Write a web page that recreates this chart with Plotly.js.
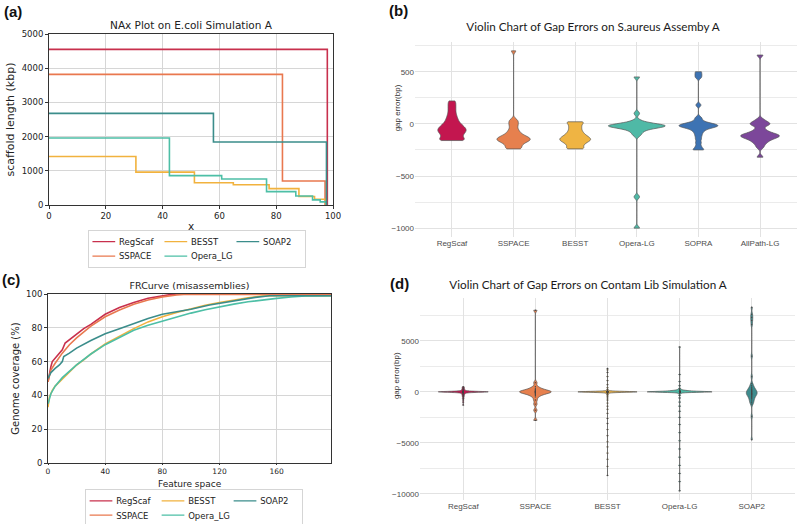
<!DOCTYPE html>
<html><head><meta charset="utf-8">
<script src="https://cdn.plot.ly/plotly-3.0.1.min.js"></script>
<style>
body{margin:0;background:#fff;width:800px;height:524px;position:relative;overflow:hidden}
.p{position:absolute}
</style></head><body>
<div id="pa" class="p" style="left:0;top:0;width:400px;height:270px"></div>
<div id="pc" class="p" style="left:0;top:270px;width:400px;height:254px"></div>
<div id="pb" class="p" style="left:385px;top:0;width:415px;height:270px"></div>
<div id="pd" class="p" style="left:385px;top:270px;width:415px;height:254px"></div>
<script>
// ---------- Panel (a): NAx plot ----------
const assemblers = ['RegScaf', 'SSPACE', 'BESST', 'Opera_LG', 'SOAP2'];
const naxRegScafX = [0, 98.0];
const naxRegScafY = [4550, 0];
const naxSSPACEX = [0, 82.2, 97.2];
const naxSSPACEY = [3820, 700, 0];
const naxBESSTX = [0, 30.6, 51.2, 64.9, 77.5, 88.0, 93.5, 97.4];
const naxBESSTY = [1420, 960, 650, 590, 480, 250, 170, 0];
const naxOperaX = [0, 42.4, 60.8, 76.6, 86.9, 92.8, 95.5, 97.6];
const naxOperaY = [1960, 860, 760, 390, 265, 150, 90, 0];
const naxSOAP2X = [0, 57.9, 97.7];
const naxSOAP2Y = [2680, 1840, 0];

// ---------- Panel (c): FRCurve ----------
const frRegScafX = [0, 1, 2, 3, 5, 7, 10, 12, 15, 20, 25, 30, 40, 50, 60, 70, 80, 85, 90, 198];
const frRegScafY = [48, 54, 57, 60, 62, 64, 67, 71, 73, 76, 79.5, 82, 88, 92, 95, 97.5, 99, 99.6, 100, 100];
const frSSPACEX = [0, 1, 2, 5, 10, 15, 20, 30, 40, 50, 60, 70, 80, 90, 95, 198];
const frSSPACEY = [48, 52, 55, 59, 65, 70, 74, 81, 86.5, 90.5, 94, 96.5, 98.3, 99.4, 99.7, 99.7];
const frBESSTX = [0, 0.5, 1, 2, 3, 5, 8, 10, 15, 20, 25, 30, 40, 50, 60, 70, 80, 90, 100, 110, 120, 130, 140, 150, 160, 198];
const frBESSTY = [33, 36, 39, 41, 43, 45.5, 48, 50, 54, 58, 61, 64.5, 70.5, 75, 79.5, 83.5, 86.5, 89, 91.3, 93.3, 95, 96.6, 97.8, 98.8, 99, 99];
const frOperaX = [0, 1, 2, 5, 10, 20, 30, 40, 50, 60, 70, 80, 90, 100, 110, 120, 130, 140, 150, 160, 170, 180, 198];
const frOperaY = [35, 38, 41, 45.5, 50.5, 58, 64.5, 70, 74.5, 78.5, 81.5, 84, 86.5, 88.7, 90.7, 92.5, 94, 95.4, 96.5, 97.4, 98.2, 98.8, 99];
const frSOAP2X = [0, 1, 2, 5, 8, 10, 11, 15, 20, 30, 40, 50, 60, 70, 80, 90, 100, 113, 120, 135, 145, 155, 198];
const frSOAP2Y = [50, 52, 53.5, 56, 58, 60, 63, 65, 68, 72.5, 76.5, 79.5, 82.5, 85.5, 88, 89.5, 91, 93.5, 94.5, 96.8, 98, 99, 99];

// ---------- Panel (b): violin, S.aureus ----------
const catsB = ['RegScaf', 'SSPACE', 'BESST', 'Opera-LG', 'SOPRA', 'AllPath-LG'];
const gapB_RegScaf = [220, 195, 170, 145, 120, 95, 75, 55, 40, 25, 10, 0, -10, -20, -28, -35, -42, -50, -56, -62, -68, -75, -82, -90, -98, -106, -115, -125, -135, -145, -152, -158, -160, -160];
const gapB_SSPACE = [700, 40, 20, 0, -20, -45, -65, -80, -95, -105, -115, -122, -128, -134, -140, -145, -150, -155, -160, -166, -172, -180, -190, -200, -212, -225, -240, -240];
const gapB_BESST = [20, 18, 5, -10, -25, -40, -55, -70, -82, -94, -104, -113, -121, -128, -135, -141, -147, -153, -159, -165, -172, -180, -190, -200, -212, -225, -238, -240];
const gapB_Opera = [450, 100, 30, 10, 0, -5, -10, -13, -16, -19, -21, -23, -26, -30, -35, -42, -52, -65, -85, -110, -700, -1000];
const gapB_SOPRA = [500, 472, 445, 180, 60, 35, 15, 5, 0, -5, -10, -14, -18, -22, -26, -30, -36, -44, -55, -70, -90, -115, -145, -180, -215, -245, -250];
const gapB_AllPath = [660, 40, 15, 5, -5, -15, -50, -70, -85, -95, -102, -108, -113, -118, -124, -130, -138, -148, -160, -175, -195, -225, -320];

// ---------- Panel (d): violin, Contam Lib ----------
const catsD = ['RegScaf', 'SSPACE', 'BESST', 'Opera-LG', 'SOAP2'];
const gapD_RegScaf = [500, 420, 350, 280, 220, 170, 130, 100, 80, 60, 45, 35, 28, 22, 18, 15, 12, 10, 8, 6, 5, 4, 3, 2, 1, 0, 0, 0, -1, -2, -3, -4, -5, -6, -8, -10, -12, -15, -18, -22, -28, -35, -45, -60, -80, -100, -130, -170, -220, -280, -350, -430, -520, -650, -800, -1000, -1300];
const gapD_SSPACE = [8000, 900, 500, 350, 250, 180, 120, 80, 50, 20, 0, -20, -50, -80, -120, -180, -250, -350, -500, -800, -1200, -1800, -2800];
const gapD_BESST = [2300, 2150, 1900, 1500, 1100, 700, 400, 250, 150, 90, 60, 40, 35, 30, 28, 25, 22, 20, 18, 16, 14, 12, 10, 9, 8, 7, 6, 5, 4, 3, 2, 1, 0, 0, 0, -1, -2, -3, -4, -5, -6, -7, -8, -9, -10, -12, -14, -16, -18, -20, -22, -25, -28, -30, -35, -40, -50, -70, -100, -150, -220, -300, -420, -600, -800, -1100, -1400, -1700, -2100, -2600, -3100, -3700, -4300, -4900, -5400, -6000, -6600, -7300, -8200];
const gapD_Opera = [4400, 1700, 1000, 600, 350, 250, 200, 170, 150, 130, 120, 110, 100, 95, 90, 80, 70, 60, 50, 40, 35, 30, 25, 20, 18, 15, 12, 10, 8, 6, 5, 4, 3, 2, 1, 0, 0, 0, -1, -2, -3, -4, -5, -6, -8, -10, -12, -15, -18, -20, -25, -30, -40, -55, -80, -120, -200, -350, -600, -1000, -1400, -1900, -2500, -3200, -4000, -4800, -5600, -6400, -7200, -8000, -8800, -9700];
const gapD_SOAP2 = [8300, 7600, 7300, 7000, 6600, 3500, 1500, 800, 600, 450, 350, 250, 180, 120, 60, 0, -50, -100, -150, -200, -250, -300, -370, -450, -550, -650, -780, -900, -1050, -1200, -2400, -4700];

// ---------- styles ----------
const lineColors = {RegScaf:'#c8304d', SSPACE:'#e9784f', BESST:'#f1b23e', Opera_LG:'#4dbfa6', SOAP2:'#3b8d8b'};
const legendRank = {RegScaf:1, BESST:2, SOAP2:3, SSPACE:4, Opera_LG:5};
const mplFont = 'DejaVu Sans, sans-serif';
const ggFont = 'Liberation Sans, Arial, sans-serif';
const titleFont = 'Lato, Open Sans, sans-serif';
const legendScale = 0.758;

function stepTrace(name, x, y) {
  return {type:'scatter', mode:'lines', name:name, x:x, y:y,
    line:{color:lineColors[name], width:1.6, shape:'hv'}, legendrank:legendRank[name]};
}
function curveTrace(name, x, y) {
  return {type:'scatter', mode:'lines', name:name, x:x, y:y,
    line:{color:lineColors[name], width:1.6}, legendrank:legendRank[name]};
}
function mplAxis(extra) {
  return Object.assign({showgrid:true, gridcolor:'#d6d6d6', gridwidth:1, showline:true, mirror:true,
    linecolor:'#333', linewidth:1, ticks:'outside', ticklen:3, tickcolor:'#333', zeroline:false,
    tickfont:{family:mplFont, size:8.5, color:'#222'}}, extra);
}
function legendCfg(x, y) {
  return {orientation:'h', x:x, y:y, xanchor:'left', yanchor:'top', entrywidth:50,
    bordercolor:'#c8c8c8', borderwidth:1, bgcolor:'#fff', font:{family:mplFont, size:8.5/legendScale, color:'#222'},
    itemwidth:30, tracegroupgap:0};
}
function shrinkLegend(gd) {
  const lg = gd.querySelector('g.legend');
  if (lg) {
    const t = lg.getAttribute('transform') || '';
    lg.setAttribute('transform', t + ' scale(' + legendScale + ')');
  }
}
function textAnn(text, x, y, size, extra) {
  return Object.assign({text:text, xref:'paper', yref:'paper', x:x, y:y, xanchor:'center', yanchor:'middle',
    showarrow:false, font:{family:mplFont, size:size, color:'#222'}}, extra || {});
}
const cfg = {staticPlot:true, displayModeBar:false};

// ---- (a)
Plotly.newPlot('pa', [
  stepTrace('RegScaf', naxRegScafX, naxRegScafY),
  stepTrace('SSPACE', naxSSPACEX, naxSSPACEY),
  stepTrace('BESST', naxBESSTX, naxBESSTY),
  stepTrace('Opera_LG', naxOperaX, naxOperaY),
  stepTrace('SOAP2', naxSOAP2X, naxSOAP2Y)
], {
  width:400, height:270, margin:{l:49, r:67, t:34, b:65, autoexpand:false},
  paper_bgcolor:'rgba(0,0,0,0)', plot_bgcolor:'#fff', showlegend:true, hovermode:false,
  font:{family:mplFont, size:8.5, color:'#222'},
  title:{text:'NAx Plot on E.coli Simulation A', font:{family:mplFont, size:10.5, color:'#222'},
    xref:'paper', x:0.5, xanchor:'center', yref:'container', y:1-25/270, yanchor:'middle'},
  xaxis: mplAxis({range:[0,100], tick0:0, dtick:20}),
  yaxis: mplAxis({range:[0,5000], tick0:0, dtick:1000, title:{text:'scaffold length (kbp)', font:{family:mplFont, size:11}, standoff:4}}),
  legend: legendCfg(0.137, -0.146),
  annotations:[
    textAnn('x', 0.5, -0.123, 10.5),
    textAnn('<b>(a)</b>', -0.165, 1.13, 15, {xanchor:'left', font:{family:'Liberation Sans, Arial', size:15, color:'#111'}})
  ]
}, cfg).then(shrinkLegend);

// ---- (c)
Plotly.newPlot('pc', [
  curveTrace('RegScaf', frRegScafX, frRegScafY),
  curveTrace('SSPACE', frSSPACEX, frSSPACEY),
  curveTrace('BESST', frBESSTX, frBESSTY),
  curveTrace('Opera_LG', frOperaX, frOperaY),
  curveTrace('SOAP2', frSOAP2X, frSOAP2Y)
], {
  width:400, height:254, margin:{l:48, r:69, t:24, b:61, autoexpand:false},
  paper_bgcolor:'rgba(0,0,0,0)', plot_bgcolor:'#fff', showlegend:true, hovermode:false,
  font:{family:mplFont, size:8.5, color:'#222'},
  title:{text:'FRCurve (misassemblies)', font:{family:mplFont, size:9.5, color:'#222'},
    xref:'paper', x:0.5, xanchor:'center', yref:'container', y:1-16/254, yanchor:'middle'},
  xaxis: mplAxis({range:[0,198], tick0:0, dtick:40, ticklen:1, tickfont:{family:mplFont, size:7.5, color:'#222'}}),
  yaxis: mplAxis({range:[0,100], tick0:0, dtick:20, title:{text:'Genome coverage (%)', font:{family:mplFont, size:10}, standoff:4}}),
  legend: legendCfg(0.131, -0.154),
  annotations:[
    textAnn('Feature space', 0.5, -0.124, 9),
    textAnn('<b>(c)</b>', -0.17, 1.083, 15, {xanchor:'left', font:{family:'Liberation Sans, Arial', size:15, color:'#111'}})
  ]
}, cfg).then(shrinkLegend);

// ---- violins
const violinColors = {'RegScaf':'#c3164f', 'SSPACE':'#e6804e', 'BESST':'#efb443', 'Opera-LG':'#4fb9a6', 'SOPRA':'#3d73b3', 'AllPath-LG':'#7c479a', 'SOAP2':'#3d8b8d'};
function violin(cat, ys, width, bw, pts) {
  return {type:'violin', x0:cat, y:ys, name:cat, width:width, bandwidth:bw, spanmode:'hard',
    fillcolor:violinColors[cat], line:{color:'#555', width:0.7}, opacity:1,
    points: pts ? 'all' : false, jitter:0, pointpos:0, marker:{size:1.3, color:'#444'},
    box:{visible:false}, meanline:{visible:false}, scalemode:'width'};
}
function ggLayout(w, h, margin, title, titleX, titleY, cats, yr, dt, minorDt, label, labelX, labelY, ytX, ytY) {
  return {
    width:w, height:h, margin:Object.assign({autoexpand:false}, margin), paper_bgcolor:'rgba(0,0,0,0)', plot_bgcolor:'#fff',
    showlegend:false, hovermode:false, violinmode:'overlay', font:{family:ggFont, size:8, color:'#4d4d4d'},
    title:{text:title, font:{family:titleFont, size:11.7, color:'#1a1a1a'}, xref:'paper', x:titleX, xanchor:'center',
      yref:'container', y:titleY, yanchor:'middle'},
    xaxis:{type:'category', categoryorder:'array', categoryarray:cats, range:[-0.6, cats.length-0.4],
      showgrid:true, gridcolor:'#e2e2e2', gridwidth:1, ticks:'', zeroline:false, showline:false,
      tickfont:{family:ggFont, size:8, color:'#4d4d4d'}},
    yaxis:{range:yr, tick0:0, dtick:dt, showgrid:true, gridcolor:'#e2e2e2', gridwidth:1, zeroline:false,
      ticks:'', showline:false, tickformat:'d',
      tickfont:{family:ggFont, size:8, color:'#4d4d4d'},
      minor:{tick0:0, dtick:minorDt, showgrid:true, gridcolor:'#ebebeb', gridwidth:1}},
    annotations:[
      {text:label, xref:'paper', yref:'paper', x:labelX, y:labelY, xanchor:'left', yanchor:'middle',
        showarrow:false, font:{family:'Liberation Sans, Arial', size:15, color:'#111'}},
      {text:'gap error(bp)', xref:'paper', yref:'paper', x:ytX, y:ytY, xanchor:'center', yanchor:'middle',
        textangle:-90, showarrow:false, font:{family:ggFont, size:8, color:'#333'}}
    ]
  };
}

Plotly.newPlot('pb', [
  violin('RegScaf', gapB_RegScaf, 0.46, 20),
  violin('SSPACE', gapB_SSPACE, 0.54, 18),
  violin('BESST', gapB_BESST, 0.50, 15),
  violin('Opera-LG', gapB_Opera, 0.92, 18),
  violin('SOPRA', gapB_SOPRA, 0.63, 15),
  violin('AllPath-LG', gapB_AllPath, 0.63, 18)
], ggLayout(415, 270, {l:30, r:3, t:42, b:33}, 'Violin Chart of Gap Errors on S.aureus Assemby A', 0.466, 1-27/270,
  catsB, [-1085, 785], 500, 250, '<b>(b)</b>', -0.072, 1.164, -0.047, 0.66), cfg);

Plotly.newPlot('pd', [
  violin('RegScaf', gapD_RegScaf, 0.69, 40, true),
  violin('SSPACE', gapD_SSPACE, 0.44, 150, true),
  violin('BESST', gapD_BESST, 0.82, 40, true),
  violin('Opera-LG', gapD_Opera, 0.90, 40, true),
  violin('SOAP2', gapD_SOAP2, 0.15, 200, true)
], ggLayout(415, 254, {l:35, r:5, t:28, b:24}, 'Violin Chart of Gap Errors on Contam Lib Simulation A', 0.448, 1-15/254,
  catsD, [-10600, 9200], 5000, 2500, '<b>(d)</b>', -0.085, 1.074, -0.061, 0.614), cfg);
</script>
</body></html>
